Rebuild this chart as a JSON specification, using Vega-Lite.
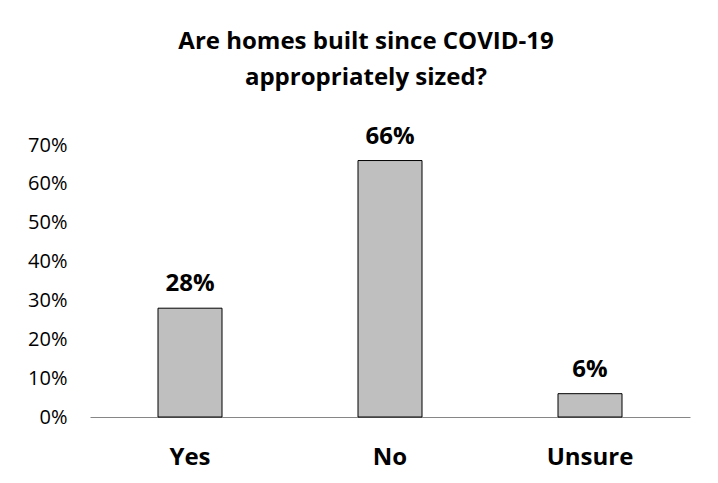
{
  "$schema": "https://vega.github.io/schema/vega-lite/v6.json",
  "width": 600,
  "height": 272,
  "autosize": {"type": "none"},
  "padding": {"left": 90, "top": 145, "right": 28, "bottom": 66},
  "background": "white",
  "config": {
    "font": "Open Sans",
    "view": {"stroke": null}
  },
  "title": {
    "text": ["Are homes built since COVID-19", "appropriately sized?"],
    "fontSize": 24,
    "fontWeight": "bold",
    "font": "Open Sans",
    "color": "#000000",
    "lineHeight": 36,
    "anchor": "middle",
    "dx": -24,
    "offset": 35
  },
  "data": {
    "values": [
      {"answer": "Yes", "share": 0.28},
      {"answer": "No", "share": 0.66},
      {"answer": "Unsure", "share": 0.06}
    ]
  },
  "encoding": {
    "x": {
      "field": "answer",
      "type": "nominal",
      "sort": null,
      "scale": {"paddingInner": 0.68, "paddingOuter": 0.34},
      "axis": {
        "title": null,
        "labelAngle": 0,
        "labelFontSize": 24,
        "labelFontWeight": "bold",
        "labelColor": "#000000",
        "labelPadding": 28,
        "ticks": false,
        "domainColor": "#868686",
        "domainWidth": 1
      }
    },
    "y": {
      "field": "share",
      "type": "quantitative",
      "scale": {"domain": [0, 0.7]},
      "axis": {
        "title": null,
        "format": ".0%",
        "values": [0, 0.1, 0.2, 0.3, 0.4, 0.5, 0.6, 0.7],
        "grid": false,
        "domain": false,
        "ticks": false,
        "labelFontSize": 20,
        "labelColor": "#000000",
        "labelPadding": 23
      }
    }
  },
  "layer": [
    {
      "mark": {"type": "bar", "fill": "#BFBFBF", "stroke": "#000000", "strokeWidth": 1}
    },
    {
      "mark": {"type": "text", "baseline": "bottom", "dy": -12, "fontSize": 24, "fontWeight": "bold", "color": "#000000"},
      "encoding": {
        "text": {"field": "share", "type": "quantitative", "format": ".0%"}
      }
    }
  ]
}
